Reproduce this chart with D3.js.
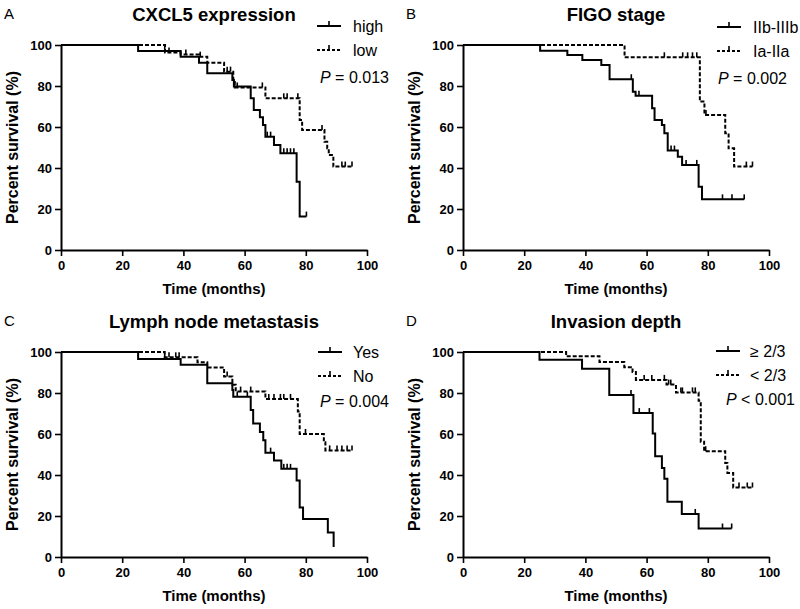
<!DOCTYPE html>
<html><head><meta charset="utf-8">
<script src="https://cdn.jsdelivr.net/npm/d3@7"></script>
<style>
body{margin:0;background:#fff}
svg text{font-family:Arial,"Liberation Sans",Helvetica,sans-serif;fill:#000}
</style>
</head><body>
<svg id="chart" width="800" height="609"></svg>
<script>
// ---------- axis ticks ----------
const xTicks = [0, 20, 40, 60, 80, 100];
const yTicks = [0, 20, 40, 60, 80, 100];

// ---------- Panel A: CXCL5 expression ----------
const aHighEvents = [[25.2,97.1],[39.1,94.3],[45.1,91.4],[47.8,86.2],[56,82.9],[56.5,79.7],[62,74],[63,68.3],[65,64.7],[66,61],[66.8,55.3],[69.6,51.2],[71.7,47.2],[77,33.3],[78,16.3]];
const aHighCensor = [33.9, 67.4, 68.5, 72.8, 73.9, 75, 76.1, 80.2];
const aLowEvents  = [[34,96.3],[39.1,95.4],[45.1,94.3],[47.8,91.4],[53.3,87],[56.3,82],[56.8,79.3],[66.8,74],[78,63.4],[78.8,58.5],[86.1,52.8],[87,49.6],[87.5,46.3],[89,40.7]];
const aLowCensor  = [35.3, 40.8, 45.5, 54.3, 55.4, 57.6, 65.8, 72.8, 73.9, 77.4, 85.3, 91.8, 92.9, 95.1];

// ---------- Panel B: FIGO stage ----------
const bLateEvents  = [[25.2,97.2],[34.1,95.1],[39,92.7],[45.2,90.2],[47.9,83.3],[55.5,77.2],[56.4,75.3],[61.8,69.1],[62.6,63.4],[65,61],[65.8,56.9],[66.9,48.5],[70.2,45.5],[71.6,41.5],[77,30.9],[78.1,24.7]];
const bLateCensor  = [55, 57.5, 68, 69.1, 72.9, 76.4, 84.8, 87.9, 91.9];
const bEarlyEvents = [[52.8,94],[77.4,72.4],[78.9,65.9],[85.7,57],[86.8,49.6],[88.6,40.7]];
const bEarlyCensor = [65.8, 71.8, 73.4, 75, 76.4, 79.4, 92.6, 94.6];

// ---------- Panel C: Lymph node metastasis ----------
const cYesEvents = [[25.2,96.6],[39.1,93.8],[47.8,84.8],[56,81.5],[56.3,78.2],[62,71.7],[62.8,65.1],[65,61],[66.1,57],[66.8,50.9],[69.6,47.1],[72,43],[77,37.3],[78,24.2],[79.1,18.5],[87.2,11.9],[89.1,4.9]];
const cYesCensor = [33.9, 57.6, 60.9, 68.5, 72.8, 73.9, 75];
const cNoEvents  = [[33.9,97.4],[44.6,95],[47.8,92.5],[53.3,88],[56,84],[57.1,80.7],[66.8,77.1],[77.4,71],[78,60],[85.9,56],[86.4,52]];
const cNoCensor  = [35.3, 37.5, 38.6, 54.3, 58.7, 62, 67.9, 69.6, 71.7, 72.8, 75, 79.9, 87.8, 90.2, 91.8, 93.5, 95.1];

// ---------- Panel D: Invasion depth ----------
const dDeepEvents    = [[25,96.2],[38.9,91.8],[47.8,79],[55.7,70.2],[62,60.2],[62.8,49.2],[65,43.4],[65.8,38.2],[66.8,27],[71.5,21],[77,13.9]];
const dDeepCensor    = [54.9, 57.6, 60.9, 75.9, 84.8, 87.8];
const dShallowEvents = [[33.7,97.9],[44.6,95.1],[52.7,92.6],[55.4,90.2],[56.5,86.4],[66.5,84.1],[69.6,80.3],[77,76.2],[77.7,56.2],[78.8,51.6],[85.7,45.9],[86.4,41],[88.3,33.9]];
const dShallowCensor = [59.2, 61.7, 65.8, 67.2, 67.9, 71.2, 71.7, 75, 75.9, 79.3, 90.2, 92.9, 94.6];

// ---------- text ----------
const panelLetters = ["A", "B", "C", "D"];
const panelTitles  = ["CXCL5 expression", "FIGO stage", "Lymph node metastasis", "Invasion depth"];
const legendLabels = [["high","low"], ["IIb-IIIb","Ia-IIa"], ["Yes","No"], ["\u2265 2/3","< 2/3"]];
const pTexts       = [" = 0.013", " = 0.002", " = 0.004", " < 0.001"];
const xTitle = "Time (months)";
const yTitle = "Percent survival (%)";

// ---------- layout ----------
const panels = [
  {ox:0,   oy:0,   series:[{ev:aHighEvents,ce:aHighCensor,dash:false},{ev:aLowEvents,ce:aLowCensor,dash:true}],
   leg:{lx:317, tx:353, rows:[26,50], px:320, py:77}},
  {ox:402, oy:0,   series:[{ev:bLateEvents,ce:bLateCensor,dash:false},{ev:bEarlyEvents,ce:bEarlyCensor,dash:true}],
   leg:{lx:717, tx:753, rows:[27,51], px:718, py:78}},
  {ox:0,   oy:307, series:[{ev:cYesEvents,ce:cYesCensor,dash:false},{ev:cNoEvents,ce:cNoCensor,dash:true}],
   leg:{lx:318, tx:353, rows:[352,376], px:320, py:401}},
  {ox:402, oy:307, series:[{ev:dDeepEvents,ce:dDeepCensor,dash:false},{ev:dShallowEvents,ce:dShallowCensor,dash:true}],
   leg:{lx:716, tx:750, rows:[351,375], px:726, py:399}}
];

const svg = d3.select("#chart");
const DASH = "4,2";

panels.forEach((p, i) => {
  const x = d3.scaleLinear().domain([0,100]).range([61 + p.ox, 367 + p.ox]);
  const y = d3.scaleLinear().domain([0,100]).range([250 + p.oy, 45 + p.oy]);
  const g = svg.append("g");

  // letter + title
  g.append("text").attr("x", 4 + p.ox).attr("y", 19 + p.oy)
    .style("font-size","15px").text(panelLetters[i]);
  g.append("text").attr("x", (x(0)+x(100))/2).attr("y", 21 + p.oy)
    .attr("text-anchor","middle").style("font-size","18.5px").style("font-weight","bold")
    .text(panelTitles[i]);

  // axes
  const xa = g.append("g").attr("transform", `translate(0,${y(0)})`)
    .call(d3.axisBottom(x).tickValues(xTicks).tickSize(6).tickSizeOuter(0).tickPadding(5));
  const ya = g.append("g").attr("transform", `translate(${x(0)},0)`)
    .call(d3.axisLeft(y).tickValues(yTicks).tickSize(6).tickSizeOuter(0).tickPadding(3));
  [xa, ya].forEach(a => {
    a.selectAll("path.domain").attr("stroke","#000").attr("stroke-width",2);
    a.selectAll(".tick line").attr("stroke","#000").attr("stroke-width",1.6);
    a.selectAll(".tick text").style("font-size","13px").style("font-weight","bold")
      .style("font-family","Arial, 'Liberation Sans', sans-serif").attr("fill","#000");
  });

  // axis titles
  g.append("text").attr("x", (x(0)+x(100))/2).attr("y", 294 + p.oy)
    .attr("text-anchor","middle").style("font-size","15px").style("font-weight","bold").text(xTitle);
  g.append("text").attr("transform", `translate(${18 + p.ox},${(y(0)+y(100))/2}) rotate(-90)`)
    .attr("text-anchor","middle").style("font-size","16px").style("font-weight","bold").text(yTitle);

  // curves
  p.series.forEach(s => {
    const lastEvent = s.ev[s.ev.length-1][0];
    const lastCensor = s.ce.length ? s.ce[s.ce.length-1] : 0;
    const end = Math.max(lastEvent, lastCensor);
    let d = `M${x(0)},${y(100)}`;
    s.ev.forEach(([t, v]) => { d += `H${x(t)}V${y(v)}`; });
    d += `H${x(end)}`;
    g.append("path").attr("d", d).attr("fill","none").attr("stroke","#000")
      .attr("stroke-width", 2).attr("stroke-dasharray", s.dash ? DASH : null);
    // censor ticks
    const survAt = t => { let v = 100; s.ev.forEach(e => { if (e[0] <= t) v = e[1]; }); return v; };
    s.ce.forEach(c => {
      g.append("line").attr("x1", x(c)).attr("x2", x(c))
        .attr("y1", y(survAt(c))).attr("y2", y(survAt(c)) - 5)
        .attr("stroke","#000").attr("stroke-width", 1.6);
    });
  });

  // legend
  p.series.forEach((s, k) => {
    const ry = p.leg.rows[k];
    g.append("line").attr("x1", p.leg.lx).attr("x2", p.leg.lx + 24).attr("y1", ry).attr("y2", ry)
      .attr("stroke","#000").attr("stroke-width",2).attr("stroke-dasharray", s.dash ? "3,2" : null);
    g.append("line").attr("x1", p.leg.lx + 12).attr("x2", p.leg.lx + 12).attr("y1", ry).attr("y2", ry - 5)
      .attr("stroke","#000").attr("stroke-width",1.6);
    g.append("text").attr("x", p.leg.tx).attr("y", ry).attr("dy","0.35em")
      .style("font-size","16px").text(legendLabels[i][k]);
  });
  const pt = g.append("text").attr("x", p.leg.px).attr("y", p.leg.py).attr("dy","0.35em").style("font-size","16px");
  pt.append("tspan").style("font-style","italic").text("P");
  pt.append("tspan").text(pTexts[i]);
});
</script>
</body></html>
